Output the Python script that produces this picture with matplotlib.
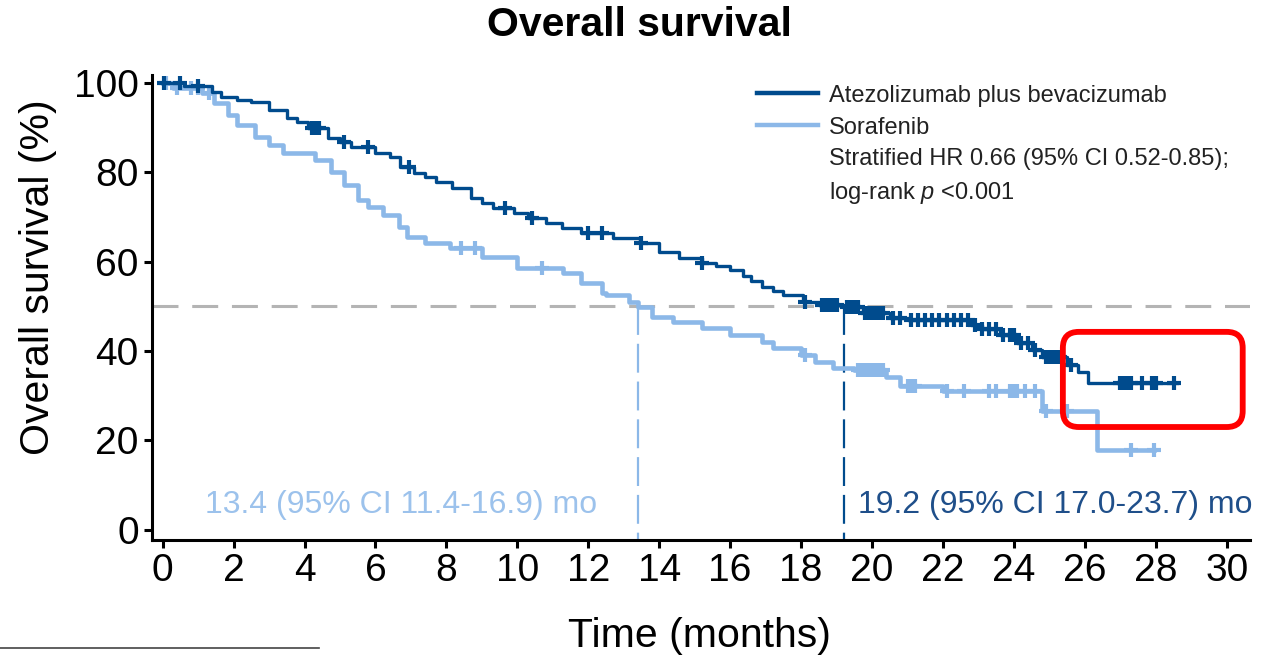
import numpy as np
import matplotlib
matplotlib.use("Agg")
import matplotlib.pyplot as plt
from matplotlib.lines import Line2D
from matplotlib.patches import FancyBboxPatch

plt.rcParams['font.family'] = ['Liberation Sans', 'DejaVu Sans']
plt.rcParams['mathtext.fontset'] = 'custom'
plt.rcParams['mathtext.it'] = 'Liberation Sans:italic'
plt.rcParams['mathtext.rm'] = 'Liberation Sans'

# Kaplan-Meier step points (months, % surviving after the step)
atezo_t = [0, 0.6, 1.4, 1.65, 2.1, 2.5, 3.0, 3.5, 3.8, 4.1, 4.65, 5.0, 5.3, 6.0,
           6.4, 6.7, 7.1, 7.4, 7.7, 8.15, 8.7, 9.0, 9.3, 9.9, 10.3, 10.8, 11.25,
           11.8, 12.7, 13.45, 14.0, 14.55, 15.2, 15.6, 16.0, 16.35, 16.6, 16.9,
           17.2, 17.5, 18.05, 18.5, 19.2, 19.75, 20.5, 21.0, 22.8, 23.1, 23.6,
           24.1, 24.5, 24.8, 25.5, 25.8, 26.1, 28.6]
atezo_s = [100, 99.3, 98.0, 96.9, 96.3, 95.7, 94.0, 92.2, 91.2, 89.9, 87.7, 86.8,
           85.7, 84.3, 83.4, 81.2, 79.9, 78.9, 77.9, 76.5, 74.3, 73.2, 72.0, 70.9,
           69.8, 68.7, 67.6, 66.4, 65.3, 64.2, 62.2, 60.8, 59.7, 59.0, 58.2, 56.8,
           55.6, 54.4, 53.5, 52.6, 51.0, 50.4, 49.8, 48.5, 47.4, 47.0, 45.8, 45.0,
           43.6, 41.8, 40.2, 38.7, 36.9, 35.3, 32.9, 32.9]
atezo_cens = [0.05, 0.5, 1.0, 4.2, 4.3, 4.4, 5.1, 5.8, 6.95, 9.65, 10.4, 12.0, 12.4,
              13.5, 15.2, 18.1, 18.6, 18.7, 18.8, 18.9, 19.0, 19.3, 19.4, 19.5,
              19.6, 19.8, 19.9, 20.0, 20.1, 20.2, 20.3, 20.6, 20.8, 21.1, 21.3,
              21.5, 21.7, 21.9, 22.1, 22.3, 22.5, 22.7, 22.9, 23.1, 23.3, 23.5,
              23.7, 23.9, 24.0, 24.2, 24.4, 24.6, 24.9, 25.0, 25.1, 25.2, 25.3,
              25.6, 27.0, 27.1, 27.2, 27.3, 27.6, 27.9, 28.0, 28.5]

sora_t = [0, 0.3, 1.1, 1.45, 1.85, 2.1, 2.6, 3.0, 3.4, 4.3, 4.75, 5.1, 5.5, 5.8,
          6.2, 6.65, 6.9, 7.4, 8.1, 9.0, 10.0, 11.3, 11.8, 12.4, 12.5, 13.15,
          13.4, 13.8, 14.4, 15.2, 16.0, 16.9, 17.2, 18.0, 18.4, 18.9, 19.5, 20.4,
          20.8, 22.0, 24.8, 26.35, 27.95]
sora_s = [100, 99.0, 97.8, 95.5, 92.8, 90.6, 88.0, 86.1, 84.3, 82.8, 80.0, 77.2,
          73.8, 72.3, 70.5, 67.8, 65.5, 64.2, 63.1, 61.1, 58.6, 57.5, 55.3, 53.0,
          52.6, 51.0, 49.9, 47.7, 46.5, 45.2, 43.6, 42.0, 40.7, 39.1, 37.6, 36.2,
          35.8, 34.2, 32.2, 31.1, 26.6, 17.9, 17.9]
sora_cens = [0.1, 0.4, 0.8, 1.0, 1.3, 8.4, 8.8, 10.7, 18.1, 19.6, 19.7, 19.8, 19.9,
             20.0, 20.1, 20.2, 20.3, 21.0, 21.1, 21.2, 22.1, 22.6, 23.3, 23.5,
             23.9, 24.0, 24.1, 24.3, 24.6, 24.9, 25.5, 27.3, 27.95]

median_atezo = 19.2
median_sora = 13.4
xticks = list(range(0, 31, 2))
yticks = [0, 20, 40, 60, 80, 100]

dark = '#004b8d'
light = '#8cb8e8'


def surv_at(t_steps, s_steps, times):
    idx = np.searchsorted(t_steps, times, side='right') - 1
    return np.asarray(s_steps)[idx]


fig = plt.figure(figsize=(12.74, 6.61), dpi=100)
ax = fig.add_axes([0.1193, 0.183, 0.8617, 0.7035])
ax.set_xlim(-0.3, 30.65)
ax.set_ylim(-2.3, 101.8)

# 50% reference and median drop lines
ax.plot([-0.3, 30.65], [50, 50], color='#b4b4b4', lw=2.2,
        ls=(0, (8.5, 4.5)), zorder=1)
ax.plot([median_sora, median_sora], [50, -2.3], color=light, lw=1.6,
        ls=(0, (13, 4)), zorder=1)
ax.plot([median_atezo, median_atezo], [50, -2.3], color=dark, lw=1.6,
        ls=(0, (13, 4)), zorder=1)

ax.step(sora_t, sora_s, where='post', color=light, lw=3.3, zorder=2)
ax.plot(sora_cens, surv_at(sora_t, sora_s, sora_cens), ls='none', marker='+',
        ms=10, mew=3, color=light, zorder=2)
ax.step(atezo_t, atezo_s, where='post', color=dark, lw=2.4, zorder=3)
ax.plot(atezo_cens, surv_at(atezo_t, atezo_s, atezo_cens), ls='none', marker='+',
        ms=10, mew=3, color=dark, zorder=3)

ax.text(6.73, 5.5, '13.4 (95% CI 11.4-16.9) mo', color='#9cc2ec', fontsize=23,
        ha='center', va='center')
ax.text(19.6, 5.5, '19.2 (95% CI 17.0-23.7) mo', color='#1f4f8a', fontsize=23,
        ha='left', va='center')

# highlight box around the tail of the curves
box = FancyBboxPatch((25.38, 23.0), 5.07, 21.3,
                     boxstyle='round,pad=0,rounding_size=0.45',
                     mutation_aspect=7.94, fill=False, ec='#ff0000', lw=4.2,
                     clip_on=False, zorder=5)
ax.add_patch(box)

ax.set_xticks(xticks)
ax.set_yticks(yticks)
ax.tick_params(labelsize=28, width=2.2, length=6, direction='out', color='black')
ax.tick_params(axis='x', pad=3)
for side in ['top', 'right']:
    ax.spines[side].set_visible(False)
for side in ['left', 'bottom']:
    ax.spines[side].set_linewidth(2.2)

handles = [Line2D([], [], color=dark, lw=3.2),
           Line2D([], [], color=light, lw=3.2),
           Line2D([], [], color='none'),
           Line2D([], [], color='none')]
labels = ['Atezolizumab plus bevacizumab', 'Sorafenib',
          'Stratified HR 0.66 (95% CI 0.52-0.85);', 'log-rank $\\mathit{p}$ <0.001']
ax.legend(handles, labels, loc='upper left', bbox_to_anchor=(0.594, 0.872),
          bbox_transform=fig.transFigure, frameon=False, fontsize=17,
          handlelength=2.6, handletextpad=0.45, labelspacing=0.42,
          borderpad=0, borderaxespad=0, labelcolor='#222222')

fig.text(0.502, 0.962, 'Overall survival', fontsize=29.5, fontweight='bold',
         ha='center', va='center')
fig.text(0.030, 0.58, 'Overall survival (%)', fontsize=29.5, rotation=90,
         ha='center', va='center')
fig.text(0.549, 0.038, 'Time (months)', fontsize=29.5, ha='center', va='center')
fig.add_artist(Line2D([0, 0.25], [0.02, 0.02], color='#444444', lw=1.2))

fig.savefig('out.png', dpi=100)
